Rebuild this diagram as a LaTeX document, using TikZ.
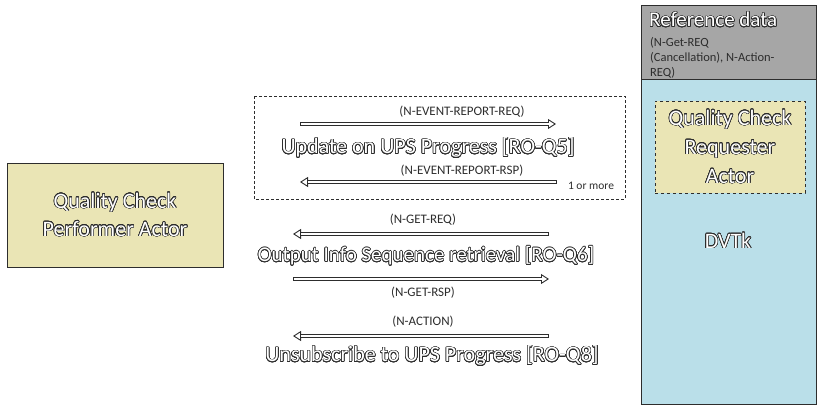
\documentclass[tikz,border=0pt]{standalone}
\usepackage{fontspec}
\setmainfont{Carlito}
\usepackage{contour}
\contourlength{0.6pt}
\contournumber{24}
\usetikzlibrary{arrows.meta,positioning}

\definecolor{khaki}{RGB}{234,229,181}
\definecolor{dvtkblue}{RGB}{186,223,233}
\definecolor{refgray}{RGB}{166,166,166}
\definecolor{edgegray}{RGB}{45,45,45}
\newcommand{\outl}[1]{\contour{edgegray}{\textcolor{white}{#1}}}

\begin{document}
\begin{tikzpicture}[x=1pt,y=-1pt,
    actor node/.style={draw=edgegray,fill=khaki,align=center,inner sep=0pt,font=\fontsize{22}{28}\selectfont},
    msg/.style={draw=edgegray,line width=3.6pt,-{Triangle[open,fill=white,length=8pt,width=10pt,line width=0.9pt]},
      postaction={draw=white,line width=1.6pt,-,shorten >=7.5pt,shorten <=0.9pt}},
    msg label/.style={font=\fontsize{13}{15}\selectfont,text=edgegray,inner sep=1pt},
    step label/.style={font=\fontsize{22}{26}\selectfont,inner sep=0pt}]
    \useasboundingbox (0,0) rectangle (823,410);

    % left actor
    \node[actor node,minimum width=216pt,minimum height=104pt] (performer) at (115,215)
      {\outl{Quality Check}\\\outl{Performer Actor}};

    % right column
    \draw[draw=edgegray,fill=refgray] (641,5) rectangle (816,79);
    \draw[draw=edgegray,fill=dvtkblue] (641,79) rectangle (816,404);
    \node[anchor=north west,inner sep=0pt,align=left] (refdata) at (649,12)
      {\fontsize{21}{24}\selectfont\outl{Reference data}};
    \node[anchor=north west,inner sep=0pt,align=left,text=edgegray,font=\fontsize{12.5}{15}\selectfont] (refmsgs) at (650,37)
      {(N-Get-REQ\\(Cancellation), N-Action-\\REQ)};
    \node[actor node,dashed,minimum width=150pt,minimum height=92pt,font=\fontsize{22}{29}\selectfont] (requester) at (730,147)
      {\outl{Quality Check}\\\outl{Requester}\\\outl{Actor}};
    \node[font=\fontsize{22}{26}\selectfont,inner sep=0pt] (dvtk) at (728,241) {\outl{DVTk}};

    % repeated exchange
    \draw[draw=edgegray,dashed,dash pattern=on 3pt off 2pt] (254,96) rectangle (625,199);
    \coordinate (rep1a) at (300,124);
    \coordinate (rep1b) at (556,124);
    \coordinate (rep2a) at (557,182);
    \coordinate (rep2b) at (300,182);
    \draw[msg] (rep1a) -- (rep1b);
    \draw[msg] (rep2a) -- (rep2b);
    \node[msg label] (repreq) at (462,112) {(N-EVENT-REPORT-REQ)};
    \node[step label] (update) at (428,148) {\outl{Update on UPS Progress [RO-Q5]}};
    \node[msg label] (reprsp) at (462,171) {(N-EVENT-REPORT-RSP)};
    \node[msg label,font=\fontsize{11.5}{13}\selectfont] (more) at (591,186) {1 or more};

    % output info
    \coordinate (get1a) at (549,234);
    \coordinate (get1b) at (293,234);
    \coordinate (get2a) at (293,279);
    \coordinate (get2b) at (549,279);
    \draw[msg] (get1a) -- (get1b);
    \draw[msg] (get2a) -- (get2b);
    \node[msg label] (getreq) at (423,220) {(N-GET-REQ)};
    \node[step label,font=\fontsize{21}{25}\selectfont] (output) at (426,256) {\outl{Output Info Sequence retrieval [RO-Q6]}};
    \node[msg label] (getrsp) at (423,293) {(N-GET-RSP)};

    % unsubscribe
    \coordinate (act1a) at (549,336);
    \coordinate (act1b) at (293,336);
    \draw[msg] (act1a) -- (act1b);
    \node[msg label] (action) at (423,322) {(N-ACTION)};
    \node[step label] (unsub) at (432,356) {\outl{Unsubscribe to UPS Progress [RO-Q8]}};
\end{tikzpicture}
\end{document}
